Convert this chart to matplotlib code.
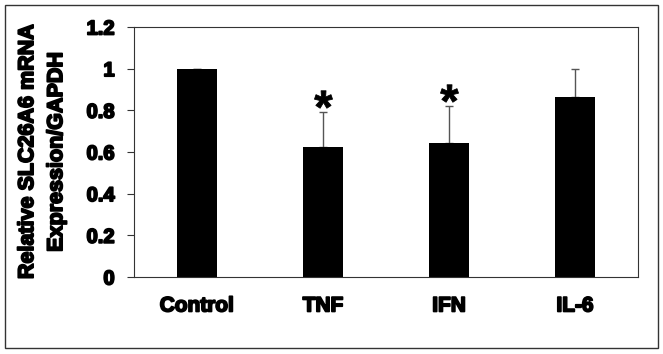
import matplotlib.pyplot as plt
import matplotlib.patheffects as pe
from matplotlib.patches import Rectangle

# data
groups = ["Control", "TNF", "IFN", "IL-6"]
expression = [1.0, 0.625, 0.645, 0.864]
err_upper = [0.0, 0.165, 0.178, 0.134]
significant = [False, True, True, False]

plt.rcParams['font.family'] = ['Liberation Sans', 'DejaVu Sans']
plt.rcParams['font.weight'] = 'bold'
plt.rcParams['mathtext.fontset'] = 'custom'
plt.rcParams['mathtext.rm'] = 'Liberation Sans:bold'

heavy = [pe.withStroke(linewidth=1.3, foreground='black')]

fig = plt.figure(figsize=(6.63, 3.54), dpi=100)
ax = fig.add_axes([134 / 663, 77 / 354, 504 / 663, 250 / 354])

x = list(range(len(groups)))
ax.bar(x, expression, width=0.32, color='black', zorder=2)
ax.errorbar(x, expression, yerr=[[0] * len(groups), err_upper], fmt='none',
            ecolor='#555555', elinewidth=1, capsize=3, capthick=1, zorder=1)

# significance asterisks sitting on the error caps
for xi, v, e, s in zip(x, expression, err_upper, significant):
    if s:
        ax.plot(xi, v + e + 0.062, marker='$*$', ms=13, color='black',
                mew=0.6, zorder=3)

ax.set_xlim(-0.5, 3.5)
ax.set_ylim(0, 1.2)
ax.set_yticks([0, 0.2, 0.4, 0.6, 0.8, 1.0, 1.2])
ax.set_yticklabels(['0', '0.2', '0.4', '0.6', '0.8', '1', '1.2'])
ax.set_xticks(x)
ax.set_xticklabels(groups)
ax.tick_params(axis='y', length=5, width=0.8, labelsize=14.5, pad=9, color='#333333')
ax.tick_params(axis='x', length=0, labelsize=15, pad=14)
for lbl in ax.get_xticklabels() + ax.get_yticklabels():
    lbl.set_path_effects(heavy)
for sp in ax.spines.values():
    sp.set_color('#333333')
    sp.set_linewidth(0.8)

yl = ax.set_ylabel('Relative SLC26A6 mRNA\nExpression/GAPDH', fontsize=15.5,
                   fontweight='bold', labelpad=14, linespacing=1.5)
yl.set_path_effects(heavy)

fig.add_artist(Rectangle((5 / 663, 6 / 354), 653 / 663, 343 / 354,
                         transform=fig.transFigure, fill=False,
                         edgecolor='#333333', linewidth=1))

fig.savefig('out.png', dpi=100)
